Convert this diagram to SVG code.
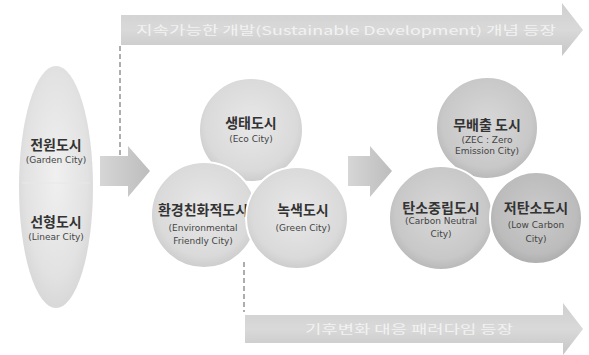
<svg xmlns="http://www.w3.org/2000/svg" width="589" height="355" viewBox="0 0 589 355">
<style>
.ko{font-family:"Noto Sans CJK KR","Noto Sans",sans-serif;font-size:14px;font-weight:bold;fill:#333;text-anchor:middle}
.en{font-family:"DejaVu Sans","Noto Sans",sans-serif;font-size:9px;fill:#444;text-anchor:middle}
.ar{font-family:"Noto Sans CJK KR","Noto Sans",sans-serif;font-size:12px;fill:#f2f2f2;text-anchor:middle}
.dash{stroke:#777;stroke-width:1.2;stroke-dasharray:5,3;fill:none}
.circ{stroke:#fff;stroke-width:2}
</style>
<defs>
<linearGradient id="band" x1="0" y1="0" x2="0" y2="1">
<stop offset="0" stop-color="#cfcfcf"/><stop offset="0.5" stop-color="#d9d9d9"/><stop offset="1" stop-color="#c6c6c6"/>
</linearGradient>
<linearGradient id="small" x1="0" y1="0" x2="1" y2="0">
<stop offset="0" stop-color="#d6d6d6"/><stop offset="1" stop-color="#bdbdbd"/>
</linearGradient>
<radialGradient id="ell" cx="0.5" cy="0.45" r="0.6">
<stop offset="0" stop-color="#f0f0f0"/><stop offset="0.7" stop-color="#e2e2e2"/><stop offset="1" stop-color="#d4d4d4"/>
</radialGradient>
<radialGradient id="c1" cx="0.5" cy="0.45" r="0.55">
<stop offset="0" stop-color="#e8e8e8"/><stop offset="0.8" stop-color="#dadada"/><stop offset="1" stop-color="#cccccc"/>
</radialGradient>
<radialGradient id="c2" cx="0.5" cy="0.45" r="0.55">
<stop offset="0" stop-color="#d8d8d8"/><stop offset="0.8" stop-color="#c8c8c8"/><stop offset="1" stop-color="#b8b8b8"/>
</radialGradient>
<radialGradient id="c3" cx="0.5" cy="0.45" r="0.55">
<stop offset="0" stop-color="#cbcbcb"/><stop offset="0.8" stop-color="#bcbcbc"/><stop offset="1" stop-color="#adadad"/>
</radialGradient>
</defs>
<rect width="589" height="355" fill="#fff"/>

<g id="connectors">
<line class="dash" x1="120" y1="46" x2="120" y2="156"/>
<line class="dash" x1="244" y1="262" x2="244" y2="312"/>
</g>

<g id="arrow-top">
<path d="M121,15 H562 V3 L583,30 L562,56 V45 H121 Z" fill="url(#band)"/>
<text class="ar" x="346" y="35" textLength="420" lengthAdjust="spacingAndGlyphs">지속가능한 개발(Sustainable Development) 개념 등장</text>
</g>

<g id="arrow-bottom">
<path d="M245,315 H563 V303 L583,329 L563,355 V343 H245 Z" fill="url(#band)"/>
<text class="ar" x="409" y="334" textLength="208" lengthAdjust="spacingAndGlyphs">기후변화 대응 패러다임 등장</text>
</g>

<g id="arrow-left">
<path d="M100,156 H128 V146 L150,171 L128,197 V186 H100 Z" fill="url(#small)"/>
</g>
<g id="arrow-mid">
<path d="M348,156 H370 V146 L392,171 L370,197 V186 H348 Z" fill="url(#small)"/>
</g>

<g id="node-early">
<ellipse cx="56" cy="187" rx="37" ry="121" fill="url(#ell)"/>
<line x1="22" y1="183" x2="90" y2="183" stroke="#e8e8e8" stroke-width="1"/>
<text class="ko" x="56" y="150">전원도시</text>
<text class="en" x="56" y="163">(Garden City)</text>
<text class="ko" x="56" y="227">선형도시</text>
<text class="en" x="56" y="240">(Linear City)</text>
</g>

<g id="node-eco">
<circle class="circ" cx="251" cy="130" r="52" fill="url(#c1)"/>
<text class="ko" x="251" y="128">생태도시</text>
<text class="en" x="251" y="142">(Eco City)</text>
</g>
<g id="node-env">
<circle class="circ" cx="204" cy="215" r="53" fill="url(#c1)"/>
<text class="ko" x="203" y="215">환경친화적도시</text>
<text class="en" x="203" y="231">(Environmental</text>
<text class="en" x="203" y="244">Friendly City)</text>
</g>
<g id="node-green">
<circle class="circ" cx="297" cy="218" r="51" fill="url(#c1)"/>
<text class="ko" x="303" y="215">녹색도시</text>
<text class="en" x="303" y="231">(Green City)</text>
</g>

<g id="node-zero">
<circle class="circ" cx="487" cy="128" r="51" fill="url(#c2)"/>
<text class="ko" x="487" y="130">무배출 도시</text>
<text class="en" x="487" y="143">(ZEC : Zero</text>
<text class="en" x="487" y="154">Emission City)</text>
</g>
<g id="node-neutral">
<circle class="circ" cx="441" cy="218" r="52" fill="url(#c2)"/>
<text class="ko" x="441" y="213">탄소중립도시</text>
<text class="en" x="441" y="224">(Carbon Neutral</text>
<text class="en" x="441" y="237">City)</text>
</g>
<g id="node-low">
<circle class="circ" cx="536" cy="218" r="46" fill="url(#c3)"/>
<text class="ko" x="536" y="213">저탄소도시</text>
<text class="en" x="536" y="228">(Low Carbon</text>
<text class="en" x="536" y="242">City)</text>
</g>
</svg>
